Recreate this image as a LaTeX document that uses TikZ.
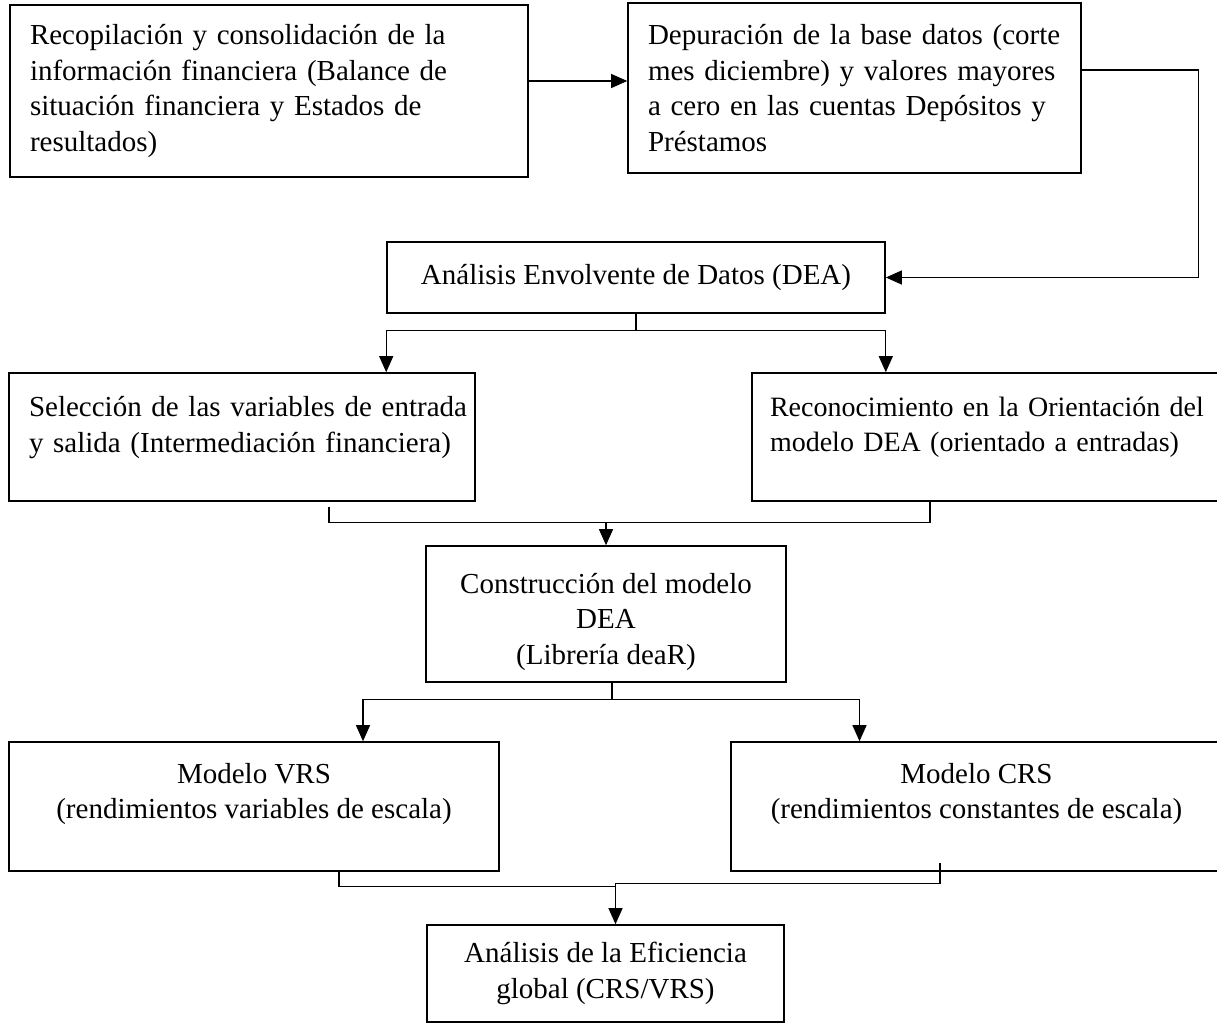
\documentclass[tikz,border=0pt]{standalone}
\usepackage{fontspec}
\setmainfont{Liberation Serif}
\usetikzlibrary{arrows.meta, positioning}

% invisible struts that push the lines of a box up or down
\newcommand{\padlow}[1]{\rule[-#1]{0pt}{#1}}
\newcommand{\padtop}[1]{\rule{0pt}{#1}}

\begin{document}
\begin{tikzpicture}[x=1pt, y=-1pt,
	box/.style={draw, line width=1.6pt, inner xsep=20pt, inner ysep=0pt,
		font=\fontsize{29}{35.5}\selectfont},
	leftbox/.style={box, align=left},
	midbox/.style={box, align=center},
	link/.style={line width=1.1pt},
	arr/.style={link, -{Triangle[width=14pt, length=16pt]}}]

	\useasboundingbox (0,0) rectangle (1217,1024);
	\clip (0,0) rectangle (1217,1024);

		%top row
	\node[leftbox, minimum width=518pt, minimum height=172pt, text width=478pt] (recop) at (269,91)
		{Recopilación y consolidación de la\\información financiera (Balance de\\situación financiera y Estados de\\resultados)};
	\node[leftbox, minimum width=453pt, minimum height=170pt, text width=413pt] (depur) at (854.5,88)
		{Depuración de la base datos (corte\\mes diciembre) y valores mayores\\a cero en las cuentas Depósitos y\\Préstamos};

	\node[midbox, minimum width=498pt, minimum height=71pt] (dea) at (636,277.5)
		{Análisis Envolvente de Datos (DEA)};

		%middle row
	\node[leftbox, minimum width=466pt, minimum height=128pt, text width=426pt] (selvar) at (242,437)
		{\mbox{Selección de las variables de entrada}\\\mbox{y salida (Intermediación financiera)}\padlow{25pt}};
	\node[leftbox, minimum width=470pt, minimum height=128pt, text width=434pt, inner xsep=18pt,
		font=\fontsize{28}{35.5}\selectfont] (orient) at (987,437)
		{\mbox{Reconocimiento en la Orientación del}\\\mbox{modelo DEA (orientado a entradas)}\padlow{25pt}};

	\node[midbox, minimum width=360pt, minimum height=136pt] (constr) at (606,614)
		{\padtop{36pt}Construcción del modelo\\DEA\\(Librería deaR)};

		%model row
	\node[midbox, minimum width=490pt, minimum height=129pt] (vrs) at (254,806.5)
		{Modelo VRS\\(rendimientos variables de escala)\padlow{31pt}};
	\node[midbox, minimum width=491pt, minimum height=129pt] (crs) at (976.5,806.5)
		{Modelo CRS\\(rendimientos constantes de escala)\padlow{31pt}};

	\node[midbox, minimum width=357pt, minimum height=97pt] (efic) at (605.5,973.5)
		{Análisis de la Eficiencia\\global (CRS/VRS)};

		%arrows into DEA
	\draw[arr] ([yshift=10pt]recop.east) -- ([yshift=10pt]recop.east -| depur.west);
	\draw[arr] ([yshift=18pt]depur.east) -- ++(117,0) |- (dea.east);

		%split below DEA
	\draw[link] (dea.south) -- ++(0,17) coordinate (split1);
	\draw[arr] (split1) -| (dea.west |- selvar.north);
	\draw[arr] (split1) -| (dea.east |- orient.north);

		%join into construction
	\coordinate (join1) at ([yshift=23pt]constr.north);
	\draw[link] ([xshift=87pt, yshift=-5pt]selvar.south) |- (join1) -| ([xshift=-57pt]orient.south);
	\draw[arr] (join1) -- (constr.north);

		%split below construction
	\draw[link] ([xshift=6pt]constr.south) -- ++(0,17) coordinate (split2);
	\draw[arr] (split2) -| ([xshift=109pt]vrs.north);
	\draw[arr] (split2) -| ([xshift=-117pt]crs.north);

		%join into efficiency
	\coordinate (join2) at ([xshift=10pt, yshift=41pt]efic.north);
	\draw[link] ([xshift=85pt]vrs.south) |- ([yshift=-3pt]join2) -- (join2);
	\draw[link] ([xshift=-36.5pt, yshift=9pt]crs.south) |- (join2);
	\draw[arr] (join2) -- (join2 |- efic.north);
\end{tikzpicture}
\end{document}
